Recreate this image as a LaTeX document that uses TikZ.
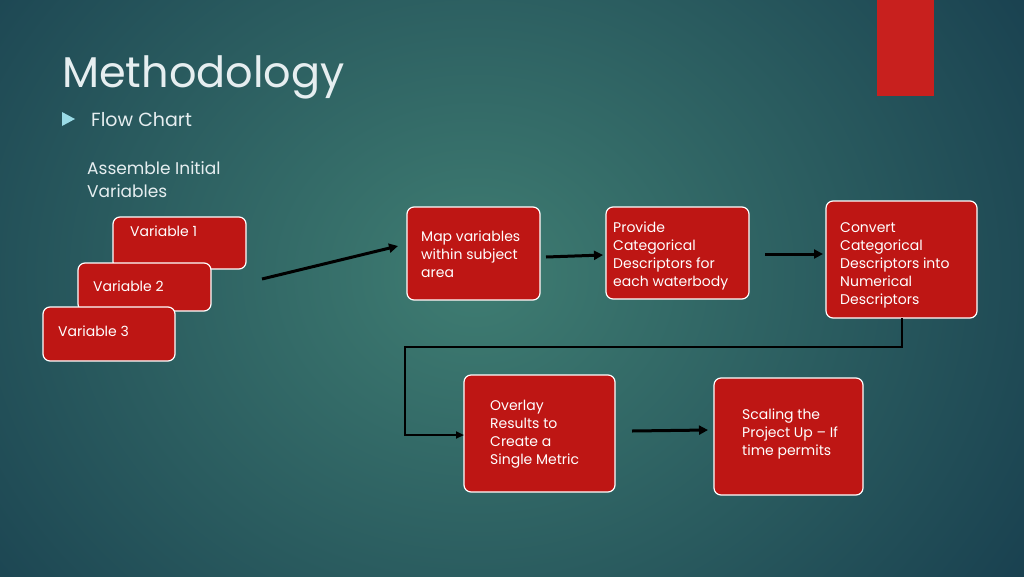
\documentclass[tikz,border=0pt]{standalone}
\usepackage{fontspec}
\setmainfont{Poppins}
\usetikzlibrary{arrows.meta}
\definecolor{bgin}{HTML}{3F7D72}
\definecolor{bgout}{HTML}{153A4C}
\definecolor{boxred}{HTML}{BE1614}
\definecolor{accent}{HTML}{C8201E}
\definecolor{txt}{HTML}{E6EEF0}
\definecolor{bullet}{HTML}{9ADBE6}
\tikzset{
  x=1pt,y=-1pt,
  rbox/.style={draw=white,line width=1.2pt,fill=boxred,rounded corners=7pt},
  btext/.style={anchor=north west,inner sep=0pt,text=white,align=left,font=\fontsize{14}{18}\selectfont},
  flow/.style={line width=3pt,-{Triangle[length=9pt,width=9pt]}},
}
\begin{document}
\begin{tikzpicture}
\useasboundingbox (0,0) rectangle (1024,576);
\shade[inner color=bgin,outer color=bgout] (-250,-350) rectangle (1200,900);
\fill[accent] (877,0) rectangle (934,96);
\node[anchor=base west,inner sep=0pt,text=txt,font=\fontsize{43}{46}\selectfont] (title) at (62,87) {Methodology};
\fill[bullet] (62,112) -- (75,119) -- (62,126) -- cycle;
\node[anchor=west,inner sep=0pt,text=txt,font=\fontsize{19}{22}\selectfont] (fc) at (91,120) {Flow Chart};
\node[anchor=north west,inner sep=0pt,text=txt,align=left,font=\fontsize{17}{23}\selectfont] (ass) at (87,161) {Assemble Initial\\Variables};
% boxes
\draw[rbox] (113,217) rectangle (246,269);
\node[btext] (v1) at (130,226) {Variable 1};
\draw[rbox] (78,263) rectangle (211,311);
\node[btext] (v2) at (93,281) {Variable 2};
\draw[rbox] (43,307) rectangle (175,361);
\node[btext] (v3) at (58,326) {Variable 3};
\draw[rbox] (407,207) rectangle (540,300);
\node[btext] (map) at (421,231) {Map variables\\within subject\\area};
\draw[rbox] (606,207) rectangle (749,299);
\node[btext] (prov) at (613,222) {Provide\\Categorical\\Descriptors for\\each waterbody};
\draw[rbox] (826,201) rectangle (977,318);
\node[btext] (conv) at (840,222) {Convert\\Categorical\\Descriptors into\\Numerical\\Descriptors};
\draw[rbox] (464,375) rectangle (615,492);
\node[btext] (ovl) at (490,400) {Overlay\\Results to\\Create a\\Single Metric};
\draw[rbox] (714,378) rectangle (863,495);
\node[btext] (scl) at (742,409) {Scaling the\\Project Up -- If\\time permits};
% connectors
\coordinate (a1s) at (262,279); \coordinate (a1e) at (398,246);
\draw[flow] (a1s) -- (a1e);
\coordinate (a2s) at (546,257); \coordinate (a2e) at (603,255);
\draw[flow] (a2s) -- (a2e);
\coordinate (a3s) at (765,254); \coordinate (a3e) at (823,254);
\draw[flow] (a3s) -- (a3e);
\coordinate (c0) at (902,318); \coordinate (c1) at (902,347);
\coordinate (c2) at (405,347); \coordinate (c3) at (405,435);
\coordinate (c4) at (464,435);
\draw[line width=2.5pt,-{Triangle[length=8pt,width=7pt]}] (c0) -- (c1) -- (c2) -- (c3) -- (c4);
\coordinate (a5s) at (632,431); \coordinate (a5e) at (708,430);
\draw[flow] (a5s) -- (a5e);
\end{tikzpicture}
\end{document}
